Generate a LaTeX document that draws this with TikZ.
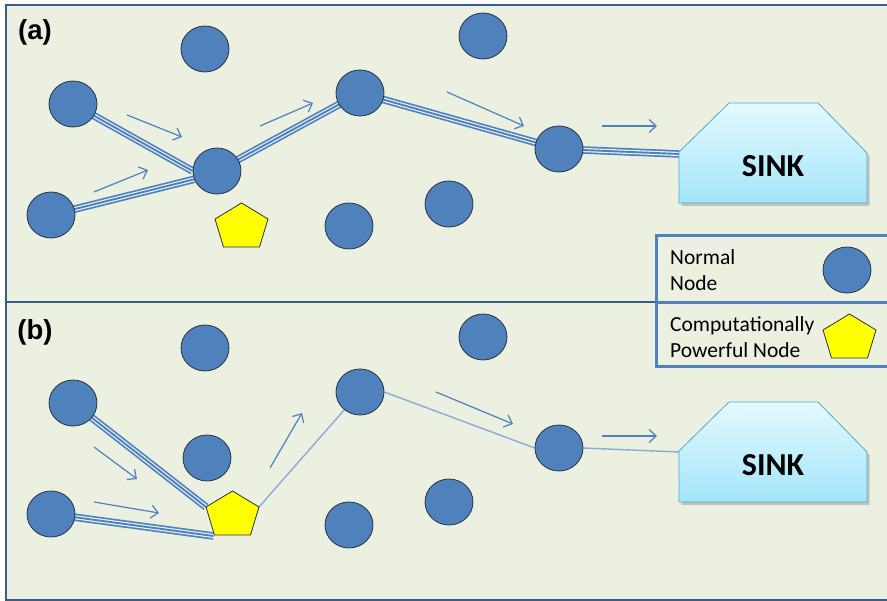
\documentclass[tikz,border=0pt]{standalone}
\usepackage{fontspec}
\setmainfont{Carlito}
\newfontfamily\labelfont{Liberation Sans}
\usetikzlibrary{arrows.meta,shapes.geometric,calc}

\definecolor{panelbg}{RGB}{236,240,225}
\definecolor{framecol}{RGB}{56,93,138}
\definecolor{nodeblue}{RGB}{79,129,189}
\definecolor{nodeedge}{RGB}{40,50,65}
\definecolor{flowblue}{RGB}{79,129,189}
\definecolor{linkgap}{RGB}{236,242,245}
\definecolor{linkthin}{RGB}{135,172,215}
\definecolor{sinktop}{RGB}{228,249,254}
\definecolor{sinkbot}{RGB}{164,229,250}
\definecolor{sinkedge}{RGB}{75,172,198}
\definecolor{legendcol}{RGB}{79,129,189}
\definecolor{pentyellow}{RGB}{255,255,0}

\pgfdeclarelayer{back}
\pgfdeclarelayer{links}
\pgfsetlayers{back,links,main}

\tikzset{
  sensor/.style={ellipse, draw=nodeedge, line width=0.8pt, fill=nodeblue,
    minimum width=48pt, minimum height=46pt, inner sep=0pt},
  pentstyle/.style={draw=nodeedge, line width=0.8pt, fill=pentyellow, line join=miter},
  triple/.style={draw=flowblue, line width=1.9pt,
    preaction={draw=flowblue, line width=7.6pt},
    preaction={draw=linkgap, line width=4.2pt}},
  thinlink/.style={draw=linkthin, line width=1.4pt},
  flow/.style={draw=flowblue, line width=1.2pt,
    -{Straight Barb[length=7pt,width=13pt,line width=1.2pt]}},
  sinkbox/.style={draw=sinkedge, line width=0.8pt, top color=sinktop, bottom color=sinkbot},
  panellabel/.style={font=\labelfont\bfseries\fontsize{27.5}{27.5}\selectfont, inner sep=0pt},
  sinklabel/.style={font=\bfseries\fontsize{32}{32}\selectfont, inner sep=0pt},
  legendtext/.style={font=\fontsize{21.5}{26}\selectfont, align=left, anchor=west, inner sep=0pt},
}

% pentagon: #1 = name, #2 = centre
\newcommand\pentagonat[2]{%
  \coordinate (#1) at #2;
  \coordinate (#1-t)  at ($(#1)+(0,-22)$);
  \coordinate (#1-r)  at ($(#1)+(26.5,-6)$);
  \coordinate (#1-br) at ($(#1)+(18,22)$);
  \coordinate (#1-bl) at ($(#1)+(-18,22)$);
  \coordinate (#1-l)  at ($(#1)+(-26.5,-6)$);
  \draw[pentstyle] (#1-t) -- (#1-r) -- (#1-br) -- (#1-bl) -- (#1-l) -- cycle;
}

% sink outline with its lower-left corner at #1
\newcommand\sinkpath[1]{%
  ($#1+(0,0)$) -- ($#1+(0,-51)$) -- ($#1+(50,-100)$) -- ($#1+(139,-100)$)
  -- ($#1+(188,-50)$) -- ($#1+(188,0)$) -- cycle}

\begin{document}
\begin{tikzpicture}[x=1pt,y=-1pt]
\useasboundingbox (0,0) rectangle (887,601);

\begin{pgfonlayer}{back}
  \fill[white] (0,0) rectangle (887,601);
  \fill[panelbg] (6,5) rectangle (890,600);
\end{pgfonlayer}

% frame and panel divider
\draw[framecol, line width=2pt] (890,5) -- (6,5) -- (6,600) -- (890,600);
\draw[framecol, line width=2pt] (6,302) -- (656,302);

% ---------------- panel (a) ----------------
\node[panellabel] (lblA) at (35,32) {(a)};

\node[sensor] (a1) at (205,49) {};
\node[sensor] (a2) at (483,36) {};
\node[sensor] (n1a) at (73,104) {};
\node[sensor] (n2a) at (51,215) {};
\node[sensor] (hubA) at (217,171) {};
\node[sensor] (n3a) at (360,93) {};
\node[sensor] (n4a) at (559,149) {};
\node[sensor] (n5a) at (349,226) {};
\node[sensor] (n6a) at (449,204) {};
\pentagonat{pA}{(241.5,225)}

\fill[black, opacity=0.18] \sinkpath{(681.5,206)};
\draw[sinkbox] \sinkpath{(679,203)};
\node[sinklabel] (sinkA) at (773,166) {SINK};
\coordinate (sinkAin) at (679,154);

\begin{pgfonlayer}{links}
  \draw[triple] (n1a.center) -- (hubA.west);
  \draw[triple] (n2a.center) -- (hubA.200);
  \draw[triple] (hubA.center) -- (n3a.center);
  \draw[triple] (n3a.center) -- (n4a.center);
  \draw[triple] (n4a.center) -- (sinkAin);
\end{pgfonlayer}

\draw[flow] (127,115) -- (182,137);
\draw[flow] (94,192) -- (148,170);
\draw[flow] (260,126) -- (313,103);
\draw[flow] (447,92) -- (524,126);
\draw[flow] (602,126) -- (657,126);

% ---------------- panel (b) ----------------
\node[panellabel] (lblB) at (35,332) {(b)};

\node[sensor] (b1) at (205,348) {};
\node[sensor] (b2) at (483,337) {};
\node[sensor] (n1b) at (73,403) {};
\node[sensor] (n2b) at (51,514) {};
\node[sensor] (midB) at (207,458) {};
\node[sensor] (n3b) at (360,392) {};
\node[sensor] (n4b) at (559,448) {};
\node[sensor] (n5b) at (349,525) {};
\node[sensor] (n6b) at (449,502) {};
\pentagonat{pB}{(232.5,513)}

\fill[black, opacity=0.18] \sinkpath{(681.5,505)};
\draw[sinkbox] \sinkpath{(679,502)};
\node[sinklabel] (sinkB) at (773,465) {SINK};
\coordinate (sinkBin) at (679,452);

\begin{pgfonlayer}{links}
  \draw[triple] (n1b.center) -- (pB-l);
  \draw[triple] (n2b.center) -- ($(pB-bl)+(-1,1)$);
  \draw[thinlink] (pB-r) -- (n3b.center);
  \draw[thinlink] (n3b.east) -- (n4b.west);
  \draw[thinlink] (n4b.east) -- (sinkBin);
\end{pgfonlayer}

\draw[flow] (94,447) -- (137,479);
\draw[flow] (94,502) -- (159,513);
\draw[flow] (270,468) -- (302,413);
\draw[flow] (436,392) -- (513,424);
\draw[flow] (602,436) -- (657,436);

% ---------------- legend ----------------
\draw[legendcol, line width=3pt] (895,236) -- (656,236) -- (656,367) -- (895,367);
\draw[legendcol, line width=3pt] (656,303) -- (895,303);
\node[legendtext] (legNormal) at (670,270) {Normal\\Node};
\node[sensor] (legCircle) at (847,270) {};
\node[legendtext] (legPower) at (670,337) {Computationally\\Powerful Node};
\pentagonat{legPent}{(849.5,336)}
\end{tikzpicture}
\end{document}
